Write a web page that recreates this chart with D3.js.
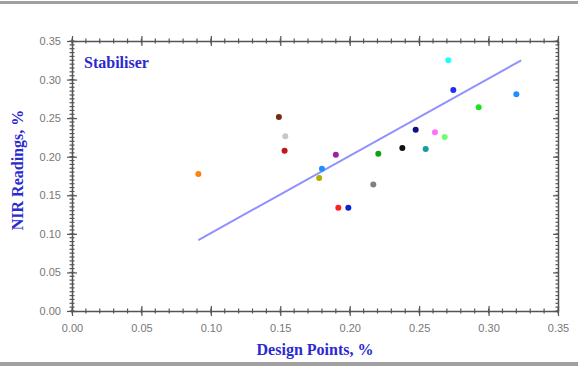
<!DOCTYPE html>
<html><head><meta charset="utf-8">
<script src="https://cdn.jsdelivr.net/npm/d3@7"></script>
<style>body{margin:0;background:#fff}svg{display:block}</style>
</head><body>
<script>
const designPoints = [0.091,0.149,0.1536,0.1531,0.178,0.180,0.190,0.1918,0.199,0.217,0.2206,0.2379,0.2475,0.2547,0.2614,0.2684,0.271,0.2746,0.2929,0.320];
const nirReadings  = [0.1776,0.2515,0.2265,0.2078,0.1724,0.1845,0.2026,0.134,0.134,0.164,0.204,0.2113,0.235,0.210,0.2317,0.2256,0.325,0.2865,0.264,0.281];
const pointColors  = ["#ff7f10","#7a2a10","#c8c8c8","#c01818","#b0b000","#1e90ff","#a020a0","#ff2020","#1020d0","#808080","#10a010","#101010","#101080","#10a0a0","#ff70ff","#70ff70","#20ffff","#2030f0","#20e020","#1e90ff"];
const fitLineX = [0.091, 0.3235];
const fitLineY = [0.092, 0.325];
const xTicks = [0.00,0.05,0.10,0.15,0.20,0.25,0.30,0.35];
const yTicks = [0.00,0.05,0.10,0.15,0.20,0.25,0.30,0.35];
const chartTitle = "Stabiliser";
const xTitle = "Design Points, %";
const yTitle = "NIR Readings, %";

const W=578,H=369;
const svg=d3.select("body").append("svg").attr("width",W).attr("height",H);
svg.append("rect").attr("width",W).attr("height",H).attr("fill","#fff");
svg.append("rect").attr("x",0).attr("y",1).attr("width",W).attr("height",3).attr("fill","#a0a0a0");
svg.append("rect").attr("x",0).attr("y",362).attr("width",W).attr("height",4).attr("fill","#a0a0a0");

const L=72,R=558,T=41,B=311;
const x=d3.scaleLinear().domain([0,0.35]).range([L,R]);
const y=d3.scaleLinear().domain([0,0.35]).range([B,T]);

const axisColor="#555";
const minorX=d3.range(0,0.3501,0.01);
const minorY=d3.range(0,0.3501,0.005);
function styleAxis(g){
  g.select(".domain").attr("stroke",axisColor).attr("stroke-width",1.5);
  g.selectAll(".tick line").attr("stroke",axisColor).attr("stroke-width",1.2);
  g.selectAll(".tick text").attr("fill","#777").attr("font-family","Liberation Sans, Arial, sans-serif").attr("font-size","11px");
}
const minor=svg.append("g");
minorX.forEach(v=>{
  minor.append("line").attr("x1",x(v)).attr("x2",x(v)).attr("y1",B-2.5).attr("y2",B+2.5).attr("stroke",axisColor).attr("stroke-width",1.2);
  minor.append("line").attr("x1",x(v)).attr("x2",x(v)).attr("y1",T-2.5).attr("y2",T+2.5).attr("stroke",axisColor).attr("stroke-width",1.2);
});
minorY.forEach(v=>{
  minor.append("line").attr("x1",L-2.5).attr("x2",L+2.5).attr("y1",y(v)).attr("y2",y(v)).attr("stroke",axisColor).attr("stroke-width",1.2);
  minor.append("line").attr("x1",R-2.5).attr("x2",R+0).attr("y1",y(v)).attr("y2",y(v)).attr("stroke",axisColor).attr("stroke-width",1.2);
});

const gx=svg.append("g").attr("transform",`translate(0,${B})`)
  .call(d3.axisBottom(x).tickValues(xTicks).tickFormat(d3.format(".2f")).tickSize(5).tickSizeOuter(0).tickPadding(8));
styleAxis(gx);
gx.selectAll(".tick line").attr("y1",-5);
const gy=svg.append("g").attr("transform",`translate(${L},0)`)
  .call(d3.axisLeft(y).tickValues(yTicks).tickFormat(d3.format(".2f")).tickSize(5).tickSizeOuter(0).tickPadding(6));
styleAxis(gy);
gy.selectAll(".tick line").attr("x1",5);
const gt=svg.append("g").attr("transform",`translate(0,${T})`)
  .call(d3.axisTop(x).tickValues(xTicks).tickFormat("").tickSize(5).tickSizeOuter(0));
styleAxis(gt);
gt.selectAll(".tick line").attr("y1",5);
const gr=svg.append("g").attr("transform",`translate(${R},0)`)
  .call(d3.axisRight(y).tickValues(yTicks).tickFormat("").tickSize(-5).tickSizeOuter(0));
styleAxis(gr);

svg.append("line").attr("x1",x(fitLineX[0])).attr("y1",y(fitLineY[0]))
  .attr("x2",x(fitLineX[1])).attr("y2",y(fitLineY[1]))
  .attr("stroke","#9090ff").attr("stroke-width",2);

svg.append("g").selectAll("circle").data(designPoints).join("circle")
  .attr("cx",(d)=>x(d)).attr("cy",(d,i)=>y(nirReadings[i])).attr("r",3)
  .attr("fill",(d,i)=>pointColors[i]);

const serif="Liberation Serif, Times New Roman, serif";
const blue="#2a2ad0";
svg.append("text").attr("x",84).attr("y",68).text(chartTitle)
  .attr("font-family",serif).attr("font-weight","bold").attr("font-size","16px").attr("fill",blue);
svg.append("text").attr("x",315).attr("y",355).attr("text-anchor","middle").text(xTitle)
  .attr("font-family",serif).attr("font-weight","bold").attr("font-size","16px").attr("fill",blue);
svg.append("text").attr("transform","translate(23,170) rotate(-90)").attr("text-anchor","middle").text(yTitle)
  .attr("font-family",serif).attr("font-weight","bold").attr("font-size","16px").attr("fill",blue);
</script>
</body></html>
